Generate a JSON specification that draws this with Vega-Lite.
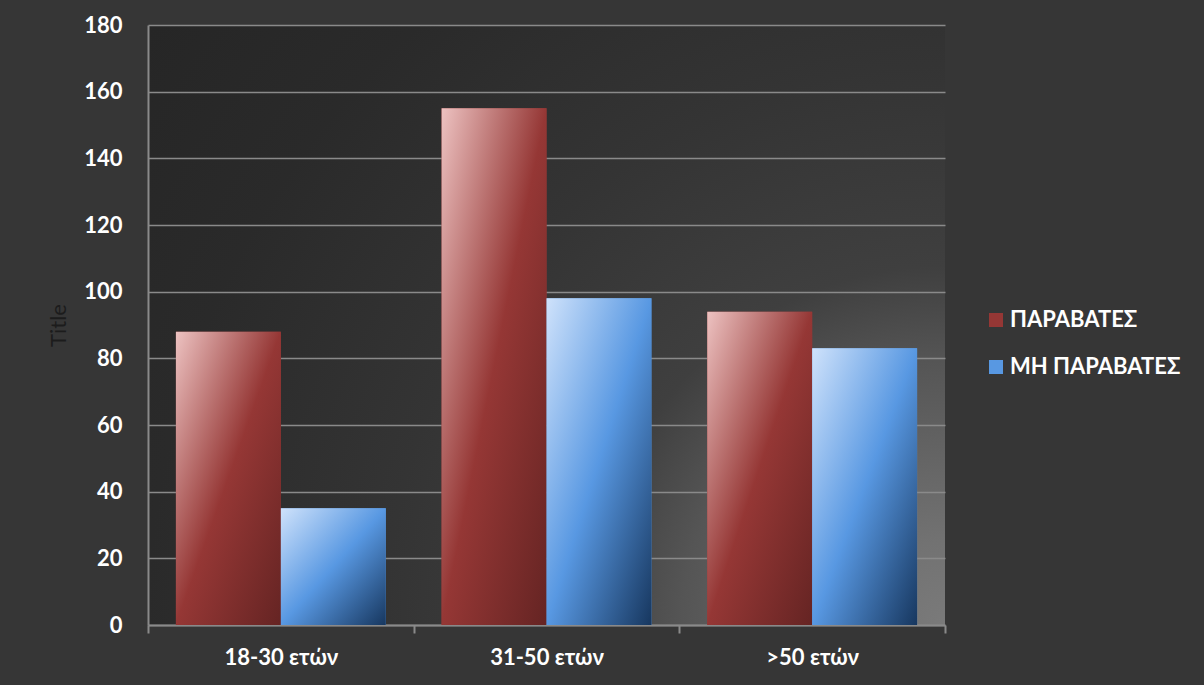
{
  "$schema": "https://vega.github.io/schema/vega-lite/v6.json",
  "width": 797,
  "height": 600,
  "autosize": {"type": "none"},
  "padding": {"left": 148, "top": 25, "right": 259, "bottom": 60},
  "background": "#363636",
  "view": {
    "stroke": null,
    "fill": {
      "gradient": "radial",
      "x1": 1, "y1": 0.876, "r1": 0,
      "x2": 1, "y2": 0.876, "r2": 1.3,
      "stops": [
        {"offset": 0, "color": "#7a7a7a"},
        {"offset": 0.08, "color": "#727272"},
        {"offset": 0.254, "color": "#555555"},
        {"offset": 0.346, "color": "#3f3f3f"},
        {"offset": 0.54, "color": "#343434"},
        {"offset": 0.77, "color": "#2a2a2a"},
        {"offset": 0.96, "color": "#262626"},
        {"offset": 1, "color": "#262626"}
      ]
    }
  },
  "data": {
    "values": [
      {"age": "18-30 ετών", "s": "ΠΑΡΑΒΑΤΕΣ", "v": 88},
      {"age": "18-30 ετών", "s": "ΜΗ ΠΑΡΑΒΑΤΕΣ", "v": 35},
      {"age": "31-50 ετών", "s": "ΠΑΡΑΒΑΤΕΣ", "v": 155},
      {"age": "31-50 ετών", "s": "ΜΗ ΠΑΡΑΒΑΤΕΣ", "v": 98},
      {"age": ">50 ετών", "s": "ΠΑΡΑΒΑΤΕΣ", "v": 94},
      {"age": ">50 ετών", "s": "ΜΗ ΠΑΡΑΒΑΤΕΣ", "v": 83}
    ]
  },
  "encoding": {
    "x": {
      "field": "age", "type": "nominal", "sort": null,
      "scale": {"paddingInner": 0, "paddingOuter": 0},
      "axis": {
        "title": null, "labelAngle": 0, "grid": false,
        "tickBand": "extent", "ticks": true, "tickSize": 8, "tickColor": "#8a8a8a", "tickWidth": 2,
        "domainColor": "#8a8a8a", "domainWidth": 2,
        "labelFont": "Lato, Roboto, sans-serif", "labelFontSize": 22, "labelFontWeight": "bold",
        "labelColor": "#ffffff", "labelPadding": 14
      }
    },
    "xOffset": {"field": "s", "type": "nominal", "sort": null, "scale": {"paddingInner": 0, "paddingOuter": 0.266}},
    "y": {
      "field": "v", "type": "quantitative",
      "scale": {"domain": [0, 180], "nice": false},
      "axis": {
        "values": [0, 20, 40, 60, 80, 100, 120, 140, 160, 180],
        "grid": true, "gridColor": "#8a8a8a", "gridWidth": 1.5,
        "ticks": false, "domain": true, "domainColor": "#8a8a8a", "domainWidth": 2,
        "labelPadding": 26,
        "labelFont": "Lato, Roboto, sans-serif", "labelFontSize": 22, "labelFontWeight": "bold",
        "labelColor": "#ffffff",
        "title": "Title", "titleFont": "Lato, Roboto, sans-serif", "titleFontSize": 22,
        "titleFontWeight": "normal", "titleColor": "#1c1c1c",
        "titleX": -90, "titleY": 300, "titleAngle": -90,
        "titleAlign": "center", "titleBaseline": "middle"
      }
    }
  },
  "layer": [
    {
      "mark": {"type": "bar"},
      "encoding": {
        "fill": {
          "field": "s", "type": "nominal", "sort": null,
          "scale": {"domain": ["ΠΑΡΑΒΑΤΕΣ", "ΜΗ ΠΑΡΑΒΑΤΕΣ"], "range": ["#953735", "#5898e2"]},
          "legend": {
            "title": null, "orient": "none", "legendX": 837, "legendY": 284,
            "padding": 0, "symbolType": "square", "symbolSize": 196, "symbolStrokeWidth": 0,
            "labelFont": "Lato, Roboto, sans-serif", "labelFontSize": 22, "labelFontWeight": "bold",
            "labelColor": "#ffffff", "labelOffset": 3, "rowPadding": 25, "labelLimit": 300,
            "encoding": {
              "symbols": {
                "enter": {
                  "fill": {"signal": "datum.value === 'ΠΑΡΑΒΑΤΕΣ' ? {gradient: 'linear', x1: 0, y1: 0, x2: 1, y2: 1, stops: [{offset: 0, color: '#edc2c1'}, {offset: 0.5, color: '#953735'}, {offset: 1, color: '#652423'}]} : {gradient: 'linear', x1: 0, y1: 0, x2: 1, y2: 1, stops: [{offset: 0, color: '#cfe2fb'}, {offset: 0.5, color: '#5898e2'}, {offset: 1, color: '#17375f'}]}"}
                },
                "update": {
                  "fill": {"signal": "datum.value === 'ΠΑΡΑΒΑΤΕΣ' ? {gradient: 'linear', x1: 0, y1: 0, x2: 1, y2: 1, stops: [{offset: 0, color: '#edc2c1'}, {offset: 0.5, color: '#953735'}, {offset: 1, color: '#652423'}]} : {gradient: 'linear', x1: 0, y1: 0, x2: 1, y2: 1, stops: [{offset: 0, color: '#cfe2fb'}, {offset: 0.5, color: '#5898e2'}, {offset: 1, color: '#17375f'}]}"}
                }
              }
            }
          }
        }
      }
    },
    {
      "mark": {"type": "bar"},
      "encoding": {
        "fill": {
          "condition": {
            "test": "datum.s === 'ΠΑΡΑΒΑΤΕΣ'",
            "value": {
              "gradient": "linear", "x1": 0, "y1": 0, "x2": 1, "y2": 1,
              "stops": [
                {"offset": 0, "color": "#edc2c1"},
                {"offset": 0.5, "color": "#953735"},
                {"offset": 1, "color": "#652423"}
              ]
            }
          },
          "value": {
            "gradient": "linear", "x1": 0, "y1": 0, "x2": 1, "y2": 1,
            "stops": [
              {"offset": 0, "color": "#cfe2fb"},
              {"offset": 0.5, "color": "#5898e2"},
              {"offset": 1, "color": "#17375f"}
            ]
          }
        }
      }
    }
  ]
}
